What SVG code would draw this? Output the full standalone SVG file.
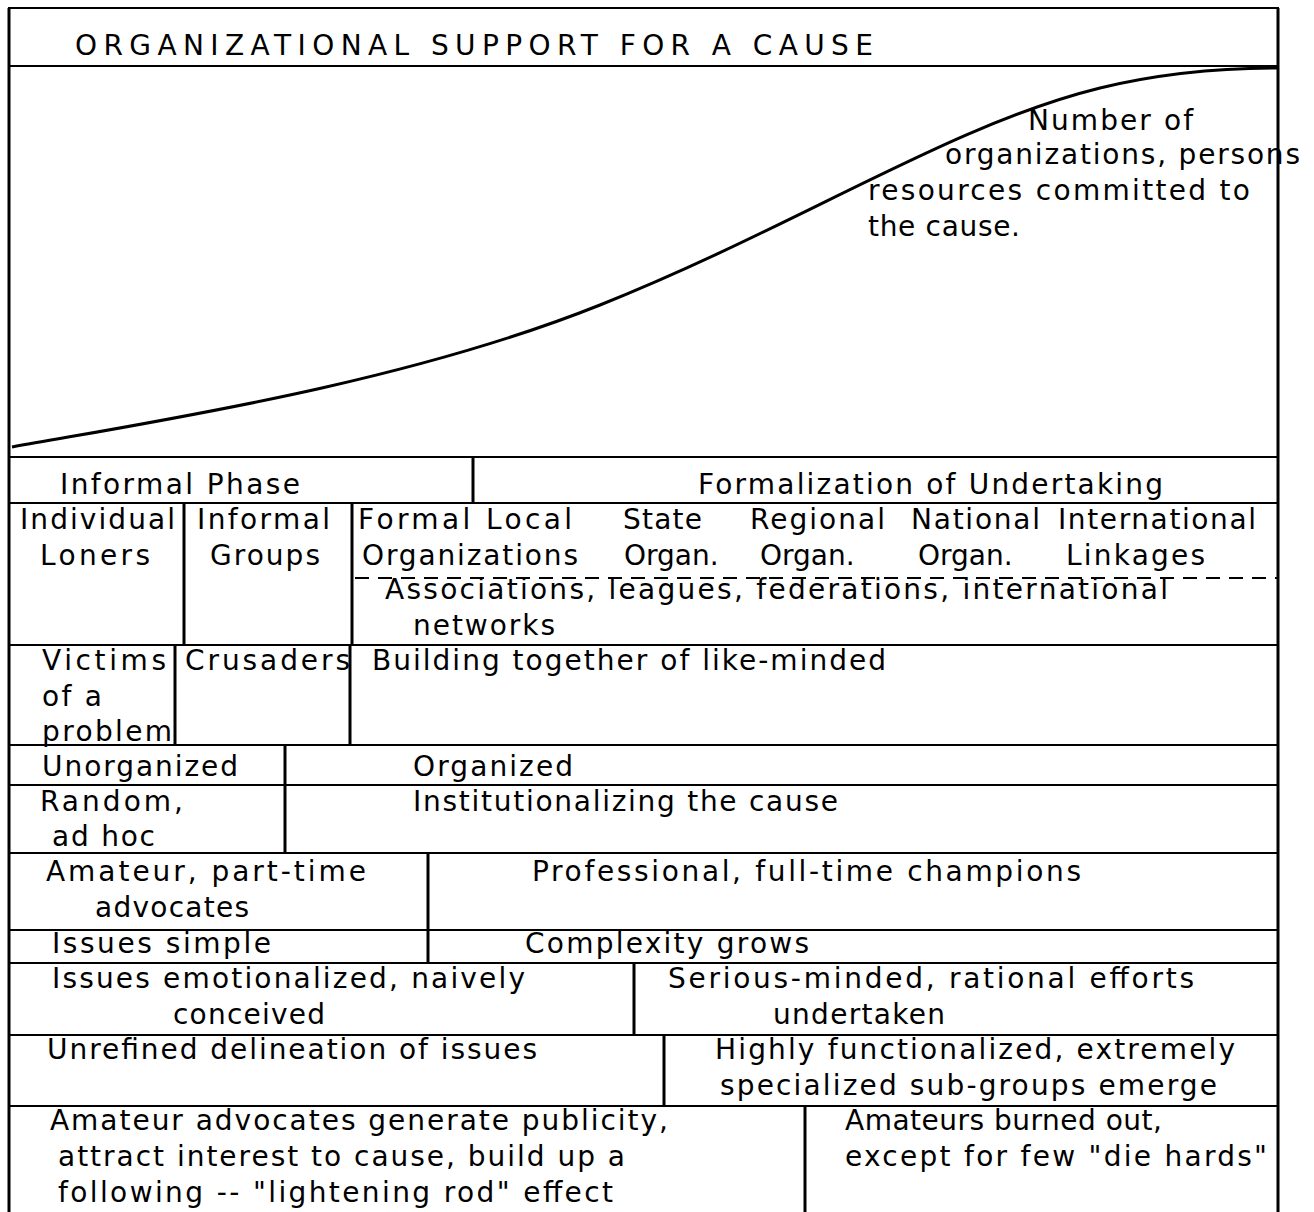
<svg xmlns="http://www.w3.org/2000/svg" width="1314" height="1212" viewBox="0 0 1314 1212">
<style>
text{font-family:"DejaVu Sans","Liberation Sans",sans-serif;font-size:28px;fill:#000;}
.h{stroke:#000;stroke-width:2;fill:none;}
.v{stroke:#000;stroke-width:3;fill:none;}
.d{stroke:#000;stroke-width:2;stroke-dasharray:14 9;fill:none;}
</style>
<rect width="1314" height="1212" fill="#fff"/>
<g id="frame">
<line class="v" x1="9" y1="8" x2="9" y2="1212"/>
<line class="v" x1="1278" y1="8" x2="1278" y2="1212"/>
<line class="h" x1="8" y1="8" x2="1279" y2="8"/>
<line class="h" x1="8" y1="66" x2="1279" y2="66"/>
</g>
<g id="title">
<text x="75" y="55" textLength="798" lengthAdjust="spacing">ORGANIZATIONAL SUPPORT FOR A CAUSE</text>
</g>
<g id="graph">
<path d="M12 447 C 150 422, 400 385, 600 305 S 950 125, 1100 88 C 1170 71, 1230 68, 1277 68" stroke="#000" stroke-width="3" fill="none"/>
<text x="1028" y="130" textLength="165" lengthAdjust="spacing">Number of</text>
<text x="945" y="164" textLength="355" lengthAdjust="spacing">organizations, persons</text>
<text x="868" y="200" textLength="382" lengthAdjust="spacing">resources committed to</text>
<text x="868" y="236" textLength="152" lengthAdjust="spacing">the cause.</text>
</g>
<g id="grid">
<line class="h" x1="9" y1="457" x2="1278" y2="457"/>
<line class="h" x1="9" y1="503" x2="1278" y2="503"/>
<line class="h" x1="9" y1="645" x2="1278" y2="645"/>
<line class="h" x1="9" y1="745" x2="1278" y2="745"/>
<line class="h" x1="9" y1="785" x2="1278" y2="785"/>
<line class="h" x1="9" y1="853" x2="1278" y2="853"/>
<line class="h" x1="9" y1="930" x2="1278" y2="930"/>
<line class="h" x1="9" y1="963" x2="1278" y2="963"/>
<line class="h" x1="9" y1="1035" x2="1278" y2="1035"/>
<line class="h" x1="9" y1="1106" x2="1278" y2="1106"/>
<line class="v" x1="473" y1="457" x2="473" y2="503"/>
<line class="v" x1="184" y1="503" x2="184" y2="645"/>
<line class="v" x1="352" y1="503" x2="352" y2="645"/>
<line class="d" x1="355" y1="578" x2="1278" y2="578"/>
<line class="v" x1="175" y1="645" x2="175" y2="745"/>
<line class="v" x1="350" y1="645" x2="350" y2="745"/>
<line class="v" x1="285" y1="745" x2="285" y2="853"/>
<line class="v" x1="428" y1="853" x2="428" y2="963"/>
<line class="v" x1="634" y1="963" x2="634" y2="1035"/>
<line class="v" x1="664" y1="1035" x2="664" y2="1106"/>
<line class="v" x1="805" y1="1106" x2="805" y2="1212"/>
</g>
<g id="row-phase">
<text x="60" y="494" textLength="240" lengthAdjust="spacing">Informal Phase</text>
<text x="698" y="494" textLength="465" lengthAdjust="spacing">Formalization of Undertaking</text>
</g>
<g id="row-types">
<text x="20" y="529" textLength="155" lengthAdjust="spacing">Individual</text>
<text x="40" y="565" textLength="110" lengthAdjust="spacing">Loners</text>
<text x="197" y="529" textLength="133" lengthAdjust="spacing">Informal</text>
<text x="210" y="565" textLength="110" lengthAdjust="spacing">Groups</text>
<text x="358" y="529" textLength="214" lengthAdjust="spacing">Formal Local</text>
<text x="623" y="529" textLength="79" lengthAdjust="spacing">State</text>
<text x="750" y="529" textLength="135" lengthAdjust="spacing">Regional</text>
<text x="911" y="529" textLength="129" lengthAdjust="spacing">National</text>
<text x="1058" y="529" textLength="198" lengthAdjust="spacing">International</text>
<text x="362" y="565" textLength="216" lengthAdjust="spacing">Organizations</text>
<text x="624" y="565">Organ.</text>
<text x="760" y="565">Organ.</text>
<text x="918" y="565">Organ.</text>
<text x="1066" y="565" textLength="139" lengthAdjust="spacing">Linkages</text>
<text x="385" y="599" textLength="783" lengthAdjust="spacing">Associations, leagues, federations, international</text>
<text x="413" y="635" textLength="142" lengthAdjust="spacing">networks</text>
</g>
<g id="row-actors">
<text x="42" y="670" textLength="124" lengthAdjust="spacing">Victims</text>
<text x="42" y="706" textLength="60" lengthAdjust="spacing">of a</text>
<text x="42" y="741" textLength="130" lengthAdjust="spacing">problem</text>
<text x="185" y="670" textLength="165" lengthAdjust="spacing">Crusaders</text>
<text x="372" y="670" textLength="514" lengthAdjust="spacing">Building together of like-minded</text>
</g>
<g id="row-organized">
<text x="42" y="776" textLength="196" lengthAdjust="spacing">Unorganized</text>
<text x="413" y="776" textLength="160" lengthAdjust="spacing">Organized</text>
</g>
<g id="row-random">
<text x="40" y="811" textLength="143" lengthAdjust="spacing">Random,</text>
<text x="52" y="846" textLength="103" lengthAdjust="spacing">ad hoc</text>
<text x="413" y="811" textLength="425" lengthAdjust="spacing">Institutionalizing the cause</text>
</g>
<g id="row-amateur">
<text x="46" y="881" textLength="320" lengthAdjust="spacing">Amateur, part-time</text>
<text x="95" y="917" textLength="154" lengthAdjust="spacing">advocates</text>
<text x="532" y="881" textLength="549" lengthAdjust="spacing">Professional, full-time champions</text>
</g>
<g id="row-issues">
<text x="52" y="953" textLength="219" lengthAdjust="spacing">Issues simple</text>
<text x="525" y="953" textLength="284" lengthAdjust="spacing">Complexity grows</text>
</g>
<g id="row-emotion">
<text x="52" y="988" textLength="473" lengthAdjust="spacing">Issues emotionalized, naively</text>
<text x="173" y="1024" textLength="152" lengthAdjust="spacing">conceived</text>
<text x="668" y="988" textLength="526" lengthAdjust="spacing">Serious-minded, rational efforts</text>
<text x="773" y="1024" textLength="172" lengthAdjust="spacing">undertaken</text>
</g>
<g id="row-delineation">
<text x="47" y="1059" textLength="490" lengthAdjust="spacing">Unrefined delineation of issues</text>
<text x="715" y="1059" textLength="520" lengthAdjust="spacing">Highly functionalized, extremely</text>
<text x="720" y="1095" textLength="497" lengthAdjust="spacing">specialized sub-groups emerge</text>
</g>
<g id="row-publicity">
<text x="50" y="1130" textLength="618" lengthAdjust="spacing">Amateur advocates generate publicity,</text>
<text x="58" y="1166" textLength="567" lengthAdjust="spacing">attract interest to cause, build up a</text>
<text x="58" y="1202" textLength="555" lengthAdjust="spacing">following -- "lightening rod" effect</text>
<text x="845" y="1130" textLength="317" lengthAdjust="spacing">Amateurs burned out,</text>
<text x="845" y="1166" textLength="422" lengthAdjust="spacing">except for few "die hards"</text>
</g>
</svg>
